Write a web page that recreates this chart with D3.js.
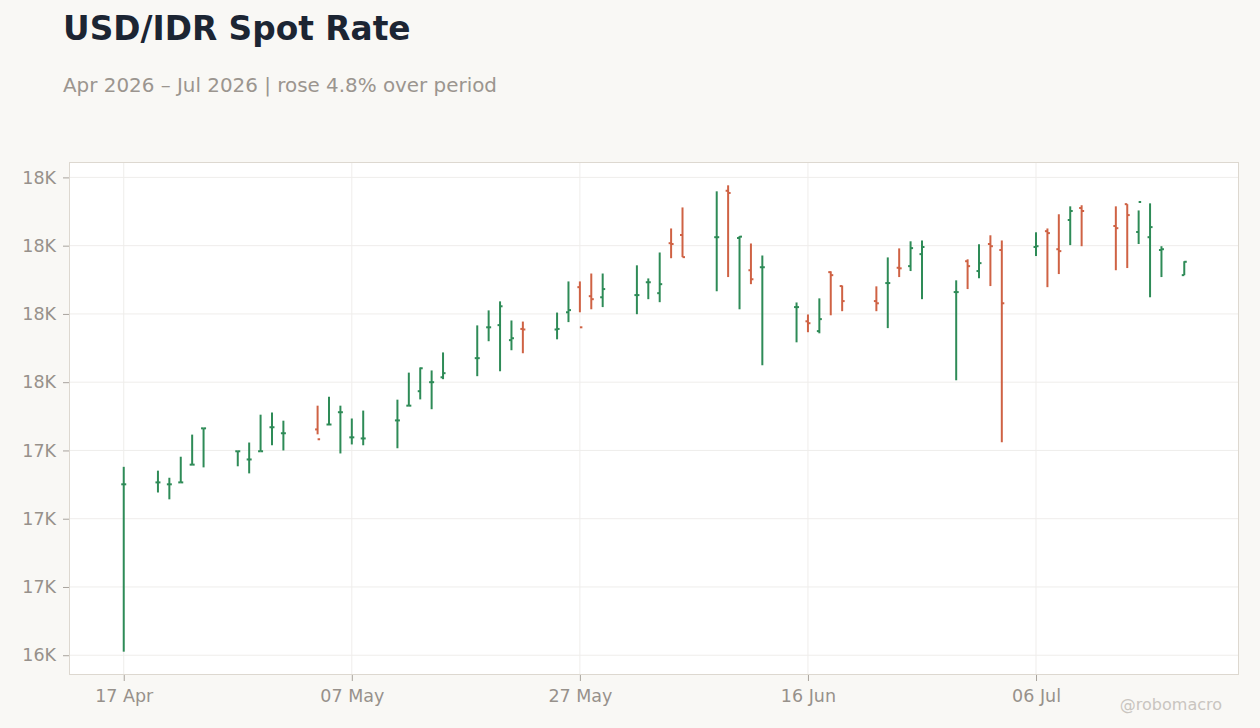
<!DOCTYPE html>
<html>
<head>
<meta charset="utf-8">
<script src="https://cdn.jsdelivr.net/npm/d3@7"></script>
<style>
  html, body { margin: 0; padding: 0; background: #f9f8f5; }
  svg { display: block; font-family: "DejaVu Sans", sans-serif; }
</style>
</head>
<body>
<div id="chart"></div>
<script>
// Trading days and OHLC values (IDR per USD)
const dates = [
  "2026-04-17", "2026-04-20", "2026-04-21", "2026-04-22", "2026-04-23", "2026-04-24",
  "2026-04-27", "2026-04-28", "2026-04-29", "2026-04-30", "2026-05-01",
  "2026-05-04", "2026-05-05", "2026-05-06", "2026-05-07", "2026-05-08",
  "2026-05-11", "2026-05-12", "2026-05-13", "2026-05-14", "2026-05-15",
  "2026-05-18", "2026-05-19", "2026-05-20", "2026-05-21", "2026-05-22",
  "2026-05-25", "2026-05-26", "2026-05-27", "2026-05-28", "2026-05-29",
  "2026-06-01", "2026-06-02", "2026-06-03", "2026-06-04", "2026-06-05",
  "2026-06-08", "2026-06-09", "2026-06-10", "2026-06-11", "2026-06-12",
  "2026-06-15", "2026-06-16", "2026-06-17", "2026-06-18", "2026-06-19",
  "2026-06-22", "2026-06-23", "2026-06-24", "2026-06-25", "2026-06-26",
  "2026-06-29", "2026-06-30", "2026-07-01", "2026-07-02", "2026-07-03",
  "2026-07-06", "2026-07-07", "2026-07-08", "2026-07-09", "2026-07-10",
  "2026-07-13", "2026-07-14", "2026-07-15", "2026-07-16", "2026-07-17",
  "2026-07-19"
];
const opens = [
  17126, 17133, 17126, 17133, 17198, 17331,
  17247, 17217, 17247, 17335, 17313,
  17327, 17345, 17390, 17298, 17294,
  17360, 17414, 17467, 17500, 17518,
  17588, 17701, 17709, 17654, 17695,
  17693, 17756, 17848, 17815, 17811,
  17819, 17866, 17826, 18009, 18039,
  18031, 18201, 18028, 17910, 17921,
  17775, 17723, 17687, 17903, 17852,
  17797, 17863, 17919, 17925, 17969,
  17830, 17943, 17907, 18006, 17984,
  17995, 18053, 17987, 18094, 18138,
  18072, 18152, 18050, 18031, 17984,
  17892
];
const highs = [
  17190, 17176, 17150, 17227, 17308, 17331,
  17247, 17279, 17381, 17389, 17359,
  17414, 17447, 17414, 17367, 17396,
  17436, 17535, 17554, 17543, 17609,
  17708, 17763, 17796, 17726, 17722,
  17755, 17869, 17869, 17898, 17898,
  17928, 17880, 17975, 18063, 18140,
  18199, 18221, 18035, 18008, 17964,
  17792, 17748, 17807, 17906, 17854,
  17851, 17957, 17990, 18016, 18019,
  17873, 17950, 18005, 18038, 18019,
  18049, 18063, 18115, 18144, 18148,
  18144, 18152, 18129, 18155, 17998,
  17943
];
const lows = [
  16513, 17096, 17071, 17133, 17198, 17188,
  17192, 17166, 17247, 17269, 17250,
  17309, 17345, 17239, 17272, 17269,
  17258, 17414, 17437, 17401, 17511,
  17522, 17650, 17540, 17617, 17606,
  17657, 17720, 17756, 17767, 17775,
  17749, 17804, 17793, 17954, 17958,
  17833, 17885, 17767, 17859, 17562,
  17646, 17683, 17679, 17745, 17760,
  17760, 17698, 17885, 17907, 17804,
  17507, 17841, 17881, 17852, 17280,
  17962, 17848, 17896, 18002, 17998,
  17910, 17918, 18006, 17811, 17885,
  17892
];
const closes = [
  17126, 17133, 17126, 17133, 17198, 17331,
  17247, 17217, 17247, 17335, 17313,
  17291, 17345, 17390, 17298, 17294,
  17360, 17414, 17551, 17500, 17533,
  17588, 17701, 17778, 17661, 17693,
  17695, 17764, 17701, 17804, 17841,
  17819, 17866, 17859, 18006, 17958,
  18031, 18193, 18033, 17877, 17921,
  17775, 17716, 17731, 17892, 17797,
  17789, 17863, 17917, 17991, 17995,
  17830, 17925, 17936, 17998, 17789,
  17998, 18046, 17980, 18127, 18127,
  18064, 18112, 18160, 18068, 17987,
  17941
];

const yTicks = [16500, 16750, 17000, 17250, 17500, 17750, 18000, 18250];
const xTickDates = ["2026-04-17", "2026-05-07", "2026-05-27", "2026-06-16", "2026-07-06"];

const titleText = "USD/IDR Spot Rate";
const subtitleText = "Apr 2026 – Jul 2026 | rose 4.8% over period";
const creditText = "@robomacro";

// Layout
const width = 1260;
const height = 728;
const marginLeft = 69;
const marginRight = 21;
const marginTop = 162;
const marginBottom = 53;

const upColor = "#2e8b57";
const downColor = "#cf6244";
const textColor = "#97918b";

const parseDate = d3.utcParse("%Y-%m-%d");
const data = dates.map((d, i) => ({
  date: parseDate(d),
  open: opens[i],
  high: highs[i],
  low: lows[i],
  close: closes[i]
}));

// Scales (dates padded a little on each side, values padded 5%)
const dayMs = 24 * 3600 * 1000;
const [d0, d1] = d3.extent(data, d => d.date);
const xPad = 4.8 * dayMs;
const x = d3.scaleUtc()
  .domain([new Date(+d0 - xPad), new Date(+d1 + xPad)])
  .range([marginLeft, width - marginRight]);

const vMin = d3.min(data, d => Math.min(d.low, d.open, d.close));
const vMax = d3.max(data, d => Math.max(d.high, d.open, d.close));
const yPad = (vMax - vMin) * 0.05;
const y = d3.scaleLinear()
  .domain([vMin - yPad, vMax + yPad])
  .range([height - marginBottom, marginTop]);

// Round half to even, like the original labels ("16K" for 16500)
function kFormat(v) {
  const k = v / 1000;
  const f = Math.floor(k);
  const diff = k - f;
  let r;
  if (Math.abs(diff - 0.5) < 1e-9) r = (f % 2 === 0) ? f : f + 1;
  else r = Math.round(k);
  return r + "K";
}

const svg = d3.select("#chart")
  .append("svg")
  .attr("width", width)
  .attr("height", height)
  .attr("viewBox", [0, 0, width, height]);

svg.append("rect")
  .attr("width", width)
  .attr("height", height)
  .attr("fill", "#f9f8f5");

// Plot background
svg.append("rect")
  .attr("x", marginLeft)
  .attr("y", marginTop)
  .attr("width", width - marginLeft - marginRight)
  .attr("height", height - marginTop - marginBottom)
  .attr("fill", "#ffffff");

// Grid
svg.append("g")
  .selectAll("line")
  .data(yTicks)
  .join("line")
  .attr("x1", marginLeft)
  .attr("x2", width - marginRight)
  .attr("y1", d => y(d))
  .attr("y2", d => y(d))
  .attr("stroke", "#efedeb")
  .attr("stroke-width", 1);

svg.append("g")
  .selectAll("line")
  .data(xTickDates.map(parseDate))
  .join("line")
  .attr("x1", d => x(d))
  .attr("x2", d => x(d))
  .attr("y1", marginTop)
  .attr("y2", height - marginBottom)
  .attr("stroke", "#efedeb")
  .attr("stroke-width", 1);

// Axes
svg.append("g")
  .attr("transform", `translate(0,${height - marginBottom})`)
  .call(d3.axisBottom(x)
    .tickValues(xTickDates.map(parseDate))
    .tickFormat(d3.utcFormat("%d %b"))
    .tickSize(6)
    .tickPadding(9)
    .tickSizeOuter(0))
  .call(g => g.select(".domain").remove())
  .call(g => g.selectAll(".tick line").attr("stroke", "#a8a39d"))
  .call(g => g.selectAll(".tick text")
    .attr("fill", textColor)
    .attr("font-size", "17.5px")
    .attr("font-family", "DejaVu Sans"));

svg.append("g")
  .attr("transform", `translate(${marginLeft},0)`)
  .call(d3.axisLeft(y)
    .tickValues(yTicks)
    .tickFormat(kFormat)
    .tickSize(6)
    .tickPadding(7)
    .tickSizeOuter(0))
  .call(g => g.select(".domain").remove())
  .call(g => g.selectAll(".tick line").attr("stroke", "#a8a39d"))
  .call(g => g.selectAll(".tick text")
    .attr("fill", textColor)
    .attr("font-size", "17.5px")
    .attr("font-family", "DejaVu Sans"));

// Frame
svg.append("rect")
  .attr("x", marginLeft + 0.5)
  .attr("y", marginTop + 0.5)
  .attr("width", width - marginLeft - marginRight - 1)
  .attr("height", height - marginTop - marginBottom - 1)
  .attr("fill", "none")
  .attr("stroke", "#ddd8d0")
  .attr("stroke-width", 1);

// OHLC bars
const tickLen = 2.5;
const bars = svg.append("g")
  .attr("stroke-width", 2)
  .attr("fill", "none")
  .selectAll("g")
  .data(data)
  .join("g")
  .attr("stroke", d => d.close >= d.open ? upColor : downColor);

bars.append("line")
  .attr("x1", d => x(d.date))
  .attr("x2", d => x(d.date))
  .attr("y1", d => y(d.high))
  .attr("y2", d => y(d.low));

bars.append("line")
  .attr("x1", d => x(d.date) - tickLen)
  .attr("x2", d => x(d.date))
  .attr("y1", d => y(d.open))
  .attr("y2", d => y(d.open));

bars.append("line")
  .attr("x1", d => x(d.date))
  .attr("x2", d => x(d.date) + tickLen)
  .attr("y1", d => y(d.close))
  .attr("y2", d => y(d.close));

// Titles
svg.append("text")
  .attr("x", 63)
  .attr("y", 40)
  .attr("fill", "#1c2533")
  .attr("font-size", "32.8px")
  .attr("font-weight", "bold")
  .text(titleText);

svg.append("text")
  .attr("x", 63)
  .attr("y", 92)
  .attr("fill", "#9b958f")
  .attr("font-size", "19.9px")
  .text(subtitleText);

svg.append("text")
  .attr("x", 1222)
  .attr("y", 710)
  .attr("text-anchor", "end")
  .attr("fill", "#c9c5c0")
  .attr("font-size", "16px")
  .text(creditText);
</script>
</body>
</html>
